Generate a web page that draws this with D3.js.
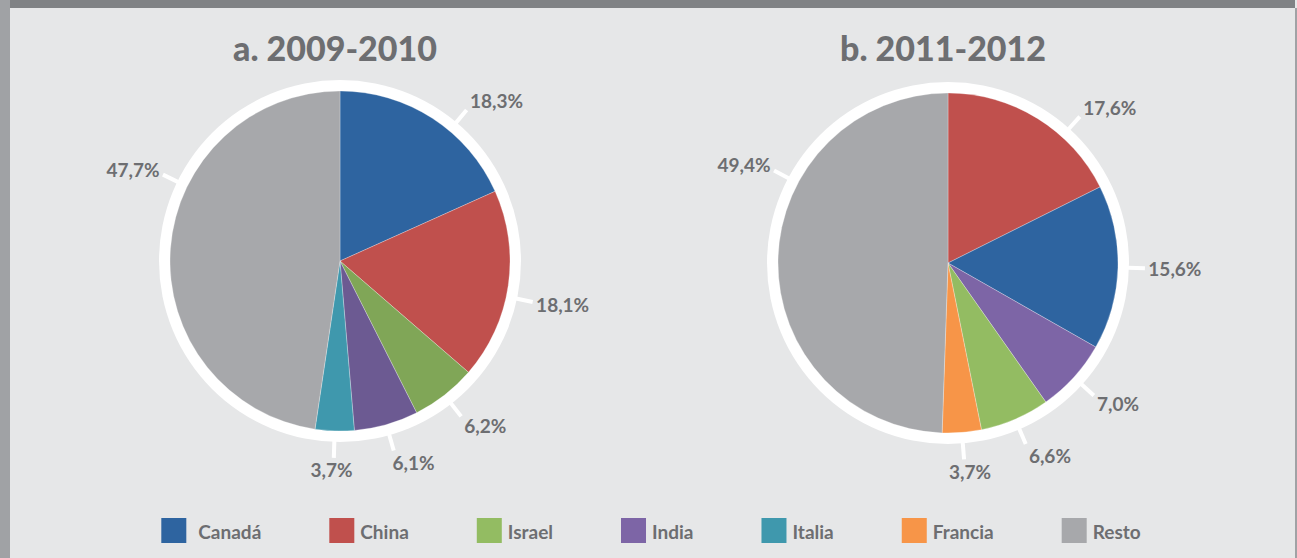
<!DOCTYPE html>
<html>
<head>
<meta charset="utf-8">
<script src="https://cdn.jsdelivr.net/npm/d3@7"></script>
<style>
  body { margin: 0; background: #e6e7e8; }
  svg { display: block; font-family: Lato, "Open Sans", sans-serif; }
</style>
</head>
<body>
<div id="chart"></div>
<script>
// data
const categories = ["Canadá", "China", "Israel", "India", "Italia", "Francia", "Resto"];
const titles = ["a. 2009-2010", "b. 2011-2012"];
const slicesA = ["Canadá", "China", "Israel", "India", "Italia", "Resto"];
const valuesA = [18.3, 18.1, 6.2, 6.1, 3.7, 47.7];
const slicesB = ["China", "Canadá", "India", "Israel", "Francia", "Resto"];
const valuesB = [17.6, 15.6, 7.0, 6.6, 3.7, 49.4];

const colors = {
    "Canadá": "#2e64a0", "China": "#c0504d", "Israel": "#93bc62", "India": "#7d65a6",
    "Italia": "#3f98ad", "Francia": "#f79548", "Resto": "#a7a8ab"
};
// the first pie uses slightly darker greens/purples
const colorsA = Object.assign({}, colors, {"Israel": "#80a657", "India": "#6c5a92"});

// label angles nudged like the original (degrees, clockwise from top)
const labelAngleA = {"Canadá": 40, "China": 102, "Resto": 296};
const labelAngleB = {"China": 42, "Resto": 298};

const width = 1297, height = 558;
const textColor = "#6d6e71";
const R = 170, ringR = 181;

const svg = d3.select("#chart").append("svg")
    .attr("width", width)
    .attr("height", height);

svg.append("rect").attr("width", width).attr("height", height).attr("fill", "#e6e7e8");
svg.append("rect").attr("x", 0).attr("y", 0).attr("width", 10).attr("height", height).attr("fill", "#a0a2a5");
svg.append("rect").attr("x", 10).attr("y", 0).attr("width", 1285).attr("height", 8).attr("fill", "#808285");
svg.append("rect").attr("x", 1295).attr("y", 8).attr("width", 2).attr("height", height).attr("fill", "#a0a2a5");

const charts = [
    {title: titles[0], names: slicesA, values: valuesA, cx: 340, cy: 261, col: colorsA, tweak: labelAngleA},
    {title: titles[1], names: slicesB, values: valuesB, cx: 948, cy: 263, col: colors, tweak: labelAngleB}
];

const fmt = v => v.toFixed(1).replace(".", ",") + "%";
const clamp = (v, a, b) => Math.max(a, Math.min(b, v));

charts.forEach(c => {
    const data = c.names.map((n, i) => ({name: n, value: c.values[i]}));
    const pie = d3.pie().sort(null).value(d => d.value);
    const arc = d3.arc().innerRadius(0).outerRadius(R);

    svg.append("text")
        .attr("x", c.cx - 5)
        .attr("y", 61)
        .attr("text-anchor", "middle")
        .attr("fill", textColor)
        .style("font-size", "34px")
        .style("font-weight", 900)
        .text(c.title);

    const g = svg.append("g").attr("transform", "translate(" + c.cx + "," + c.cy + ")");
    g.append("circle").attr("r", ringR).attr("fill", "#ffffff");

    const arcs = pie(data);
    g.selectAll("path.slice")
        .data(arcs)
        .enter()
        .append("path")
        .attr("class", "slice")
        .attr("d", arc)
        .attr("fill", d => c.col[d.data.name])
        .attr("stroke", "rgba(255,255,255,0.45)")
        .attr("stroke-width", 0.6);

    arcs.forEach(d => {
        let deg = c.tweak[d.data.name];
        const a = deg !== undefined ? deg * Math.PI / 180 : (d.startAngle + d.endAngle) / 2;
        const s = Math.sin(a), k = -Math.cos(a);
        const tx = s * (ringR + 16), ty = k * (ringR + 16);
        g.append("line")
            .attr("x1", s * (ringR - 1)).attr("y1", k * (ringR - 1))
            .attr("x2", tx).attr("y2", ty)
            .attr("stroke", "#ffffff")
            .attr("stroke-width", 4);
        const t = g.append("text")
            .attr("text-anchor", "middle")
            .attr("dominant-baseline", "central")
            .attr("fill", textColor)
            .style("font-size", "19px")
            .style("font-weight", 700)
            .text(fmt(d.data.value));
        const w = t.node().getComputedTextLength();
        const sx = clamp(s * 3, -1, 1) * 1.05;
        const sy = clamp(k * 1.5, -1.5, 1.5);
        t.attr("x", tx + sx * (w / 2 + 2)).attr("y", ty + sy * 8);
    });
});

// legend, laid out in a row and centred
const legend = svg.append("g");
const gap = 68;
let xPos = 0;
categories.forEach((name, i) => {
    const item = legend.append("g").attr("transform", "translate(" + xPos + ",0)");
    item.append("rect").attr("x", 0).attr("y", 518).attr("width", 25).attr("height", 25)
        .attr("fill", colors[name]);
    const pad = i === 0 ? 12 : 6;
    const t = item.append("text")
        .attr("x", 25 + pad).attr("y", 531)
        .attr("dominant-baseline", "central")
        .attr("fill", textColor)
        .style("font-size", "19px")
        .style("font-weight", 700)
        .text(name);
    xPos += 25 + pad + t.node().getComputedTextLength() + gap;
});
const legendW = xPos - gap;
legend.attr("transform", "translate(" + (651 - legendW / 2) + ",0)");
</script>
</body>
</html>
